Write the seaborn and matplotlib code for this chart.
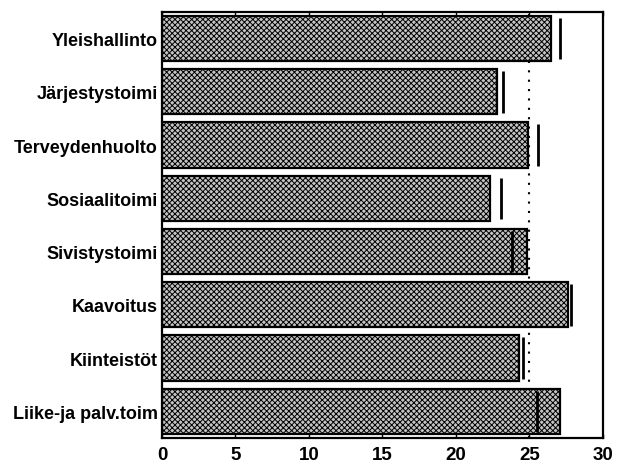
import matplotlib
matplotlib.use("Agg")
import matplotlib.pyplot as plt
import seaborn as sns
import pandas as pd
import numpy as np

categories = ["Yleishallinto", "Järjestystoimi", "Terveydenhuolto", "Sosiaalitoimi",
              "Sivistystoimi", "Kaavoitus", "Kiinteistöt", "Liike-ja palv.toim"]
bar_values = [26.5, 22.8, 24.9, 22.3, 24.85, 27.6, 24.3, 27.1]
marker_values = [27.1, 23.2, 25.6, 23.1, 23.8, 27.85, 24.6, 25.5]
reference_value = 25
x_ticks = [0, 5, 10, 15, 20, 25, 30]

sns.set_theme(style="white")
plt.rcParams['font.family'] = ['Liberation Sans', 'DejaVu Sans']
plt.rcParams['hatch.linewidth'] = 0.7
plt.rcParams['hatch.color'] = '#1a1a1a'

df = pd.DataFrame({"category": categories, "value": bar_values})

fig = plt.figure(figsize=(6.17, 4.64), dpi=100)
ax = fig.add_axes([0.2626, 0.054, 0.7144, 0.918])

ax.axvline(reference_value, color="black", linestyle=(0, (1, 3.5)), linewidth=1.5, zorder=0)

sns.barplot(data=df, x="value", y="category", orient="h", width=0.85,
            color="#c4c4c4", saturation=1, edgecolor="black", linewidth=1.6,
            ax=ax, zorder=2)
for p in ax.patches:
    p.set_hatch("xxxxxx")

ypos = np.arange(len(categories))
ax.vlines(marker_values, ypos - 0.39, ypos + 0.39, color="black", linewidth=2, zorder=3)

ax.set_xlim(0, 30)
ax.set_ylim(len(categories) - 0.5, -0.5)
ax.set_xticks(x_ticks)
ax.set_xticklabels([str(t) for t in x_ticks], fontsize=13.5, fontweight="bold")
ax.set_yticklabels(categories, fontsize=13, fontweight="bold")
ax.set_xlabel("")
ax.set_ylabel("")
ax.tick_params(axis="x", direction="in", top=True, bottom=True, length=3, width=1, pad=6, colors="black")
ax.tick_params(axis="y", length=0, pad=3, colors="black")
for s in ax.spines.values():
    s.set_visible(True)
    s.set_color("black")
    s.set_linewidth(1.6)

fig.savefig("out.png", dpi=100, facecolor="white")
